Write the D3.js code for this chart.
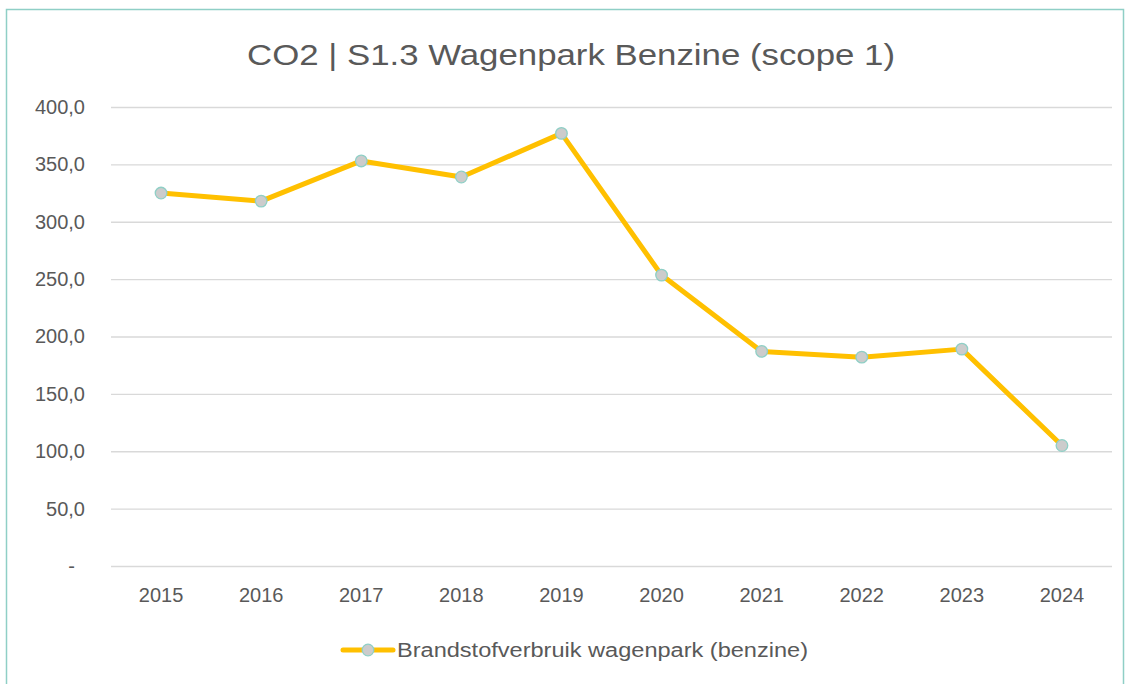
<!DOCTYPE html>
<html><head><meta charset="utf-8">
<script src="https://cdn.jsdelivr.net/npm/d3@7"></script>
<style>body{margin:0;background:#fff;} svg{display:block;font-family:"Liberation Sans",Arial,sans-serif;}</style>
</head><body>
<svg id="c" width="1126" height="684"></svg>
<script>
const title = "CO2 | S1.3 Wagenpark Benzine (scope 1)";
const years = ["2015","2016","2017","2018","2019","2020","2021","2022","2023","2024"];
const values = [325, 318, 353, 339, 377, 253.5, 187, 182, 189, 105];
const yTicks = [0,50,100,150,200,250,300,350,400];
const seriesName = "Brandstofverbruik wagenpark (benzine)";

const svg = d3.select("#c");
const txt = "#595959";
svg.append("rect").attr("x",6.5).attr("y",9.5).attr("width",1117).attr("height",690)
  .attr("fill","#fff").attr("stroke","#8fcfc6").attr("stroke-width",1.5);

const x = d3.scaleBand().domain(years).range([111,1112]);
const y = d3.scaleLinear().domain([0,400]).range([566,107]);

svg.append("text").attr("x",571).attr("y",65).attr("text-anchor","middle")
  .attr("font-size",29).attr("fill",txt).attr("textLength",648)
  .attr("lengthAdjust","spacingAndGlyphs").text(title);

const fmt = v => v===0 ? "-" : d3.format(".1f")(v).replace(".",",");
const ya = svg.append("g").attr("transform","translate(111,0)")
  .call(d3.axisLeft(y).tickValues(yTicks).tickFormat(fmt).tickSize(-1001).tickPadding(26));
ya.select(".domain").remove();
ya.selectAll(".tick line").attr("stroke","#d9d9d9").attr("stroke-width",1.3);
ya.selectAll(".tick text").attr("fill",txt).attr("font-size",20)
  .attr("dx", d => d===0 ? -10 : 0);

const xa = svg.append("g").attr("transform","translate(0,566)")
  .call(d3.axisBottom(x).tickSize(0).tickPadding(22));
xa.select(".domain").remove();
xa.selectAll(".tick text").attr("font-size",20).attr("fill",txt);

const line = d3.line().x((d,i)=>x(years[i])+x.bandwidth()/2).y(d=>y(d));
svg.append("path").datum(values).attr("d",line).attr("fill","none")
  .attr("stroke","#FFC000").attr("stroke-width",5).attr("stroke-linejoin","round");
svg.selectAll("circle.pt").data(values).join("circle").attr("class","pt")
  .attr("cx",(d,i)=>x(years[i])+x.bandwidth()/2).attr("cy",d=>y(d)).attr("r",5.8)
  .attr("fill","#cccccc").attr("stroke","#8fcfc6").attr("stroke-width",1.3);

const lg = svg.append("g");
lg.append("line").attr("x1",343).attr("x2",393).attr("y1",650).attr("y2",650)
  .attr("stroke","#FFC000").attr("stroke-width",5).attr("stroke-linecap","round");
lg.append("circle").attr("cx",368).attr("cy",650).attr("r",5.8)
  .attr("fill","#cccccc").attr("stroke","#8fcfc6").attr("stroke-width",1.3);
lg.append("text").attr("x",397).attr("y",657).attr("font-size",20).attr("fill",txt)
  .attr("textLength",411).attr("lengthAdjust","spacingAndGlyphs").text(seriesName);
</script>
</body></html>
